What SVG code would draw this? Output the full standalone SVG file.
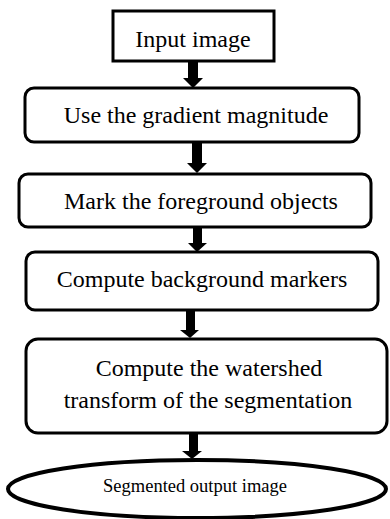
<svg xmlns="http://www.w3.org/2000/svg" width="390" height="519" viewBox="0 0 390 519">
<style>
.box{fill:#fff;stroke:#000;stroke-width:3}
.t{font-family:"Liberation Serif","Times New Roman",serif;font-size:24px;fill:#000;text-anchor:middle}
.arr{fill:#000;stroke:none}
</style>
<rect width="390" height="519" fill="#fff"/>
<g id="connectors">
<path class="arr" d="M188,62 H198 V78 H203 L193,88 L183,78 H188 Z"/>
<path class="arr" d="M192,142 H202 V163 H207 L197,173 L187,163 H192 Z"/>
<path class="arr" d="M193,227 H202 V243 H207 L197,252 L188,243 H193 Z"/>
<path class="arr" d="M186,310 H195 V330 H199 L190,338 L180,330 H186 Z"/>
<path class="arr" d="M189,433 H198 V451 H202 L192,459 L182,451 H189 Z"/>
</g>
<g id="n1">
<rect class="box" x="113" y="11" width="161" height="50"/>
<text class="t" x="193" y="47">Input image</text>
</g>
<g id="n2">
<rect class="box" x="25" y="88" width="334" height="54" rx="9"/>
<text class="t" x="196" y="123">Use the gradient magnitude</text>
</g>
<g id="n3">
<rect class="box" x="19" y="174" width="352" height="53" rx="9"/>
<text class="t" x="201" y="209">Mark the foreground objects</text>
</g>
<g id="n4">
<rect class="box" x="26" y="252" width="352" height="58" rx="9"/>
<text class="t" x="202" y="287">Compute background markers</text>
</g>
<g id="n5">
<rect class="box" x="26" y="339" width="361" height="94" rx="12"/>
<text class="t" x="209" y="376">Compute the watershed</text>
<text class="t" x="208" y="408">transform of the segmentation</text>
</g>
<g id="n6">
<ellipse cx="197" cy="489" rx="189" ry="29" fill="#fff" stroke="#000" stroke-width="4"/>
<text class="t" x="195" y="492" style="font-size:18.5px">Segmented output image</text>
</g>
</svg>
